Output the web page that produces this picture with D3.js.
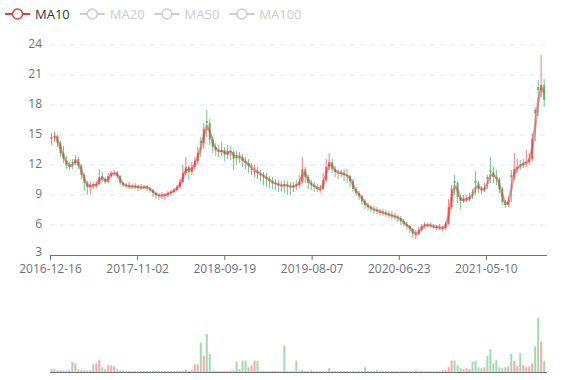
<!DOCTYPE html>
<html>
<head>
<meta charset="utf-8">
<script src="https://cdn.jsdelivr.net/npm/d3@7"></script>
<style>
  body { margin: 0; background: #fff; }
  text { font-family: "Open Sans", "Noto Sans", sans-serif; }
</style>
</head>
<body>
<script>
// price ticks and date labels
var priceTicks = [3, 6, 9, 12, 15, 18, 21, 24];
var dateLabels = ["2016-12-16", "2017-11-02", "2018-09-19", "2019-08-07", "2020-06-23", "2021-05-10"];
var legendNames = ["MA10", "MA20", "MA50", "MA100"];
var activeLegend = ["MA10"];

// one candle per ~11 calendar days: [open, close, low, high]
var candles = [
  [14.6,14.8,14.0,15.2],[14.8,14.9,14.3,15.3],[14.9,14.2,13.8,15.0],[14.2,13.2,12.8,14.4],[13.2,12.6,12.2,13.9],
  [12.5,12.0,11.6,12.9],[12.0,11.8,11.5,12.3],[12.3,12.2,11.6,12.6],[12.2,12.6,12.0,13.0],[12.6,11.9,11.6,12.8],
  [11.9,11.0,10.6,12.1],[11.0,10.2,9.4,11.2],[10.2,9.8,9.0,10.4],[9.8,10.0,9.1,10.4],[10.1,9.9,9.6,10.3],
  [9.9,10.1,9.7,10.4],[10.1,10.8,10.0,11.6],[10.9,10.6,10.3,11.3],[10.6,10.3,10.1,10.8],[10.3,10.9,10.2,11.2],
  [10.9,11.2,10.8,11.4],[11.2,11.2,10.9,11.5],[11.3,10.9,10.7,11.4],[10.9,10.2,10.0,11.0],[10.2,10.0,9.8,10.3],
  [10.0,9.9,9.7,10.2],[9.8,9.9,9.6,10.3],[9.9,9.8,9.6,10.1],[9.8,9.9,9.6,10.2],[9.9,9.7,9.4,10.0],
  [9.7,9.8,9.5,10.1],[9.8,9.8,9.6,10.0],[9.9,9.7,9.4,10.0],[9.7,9.5,9.2,9.8],[9.5,9.2,8.8,9.6],
  [9.2,9.0,8.6,9.3],[9.0,8.9,8.5,9.2],[8.9,9.0,8.6,9.3],[9.0,9.0,8.5,9.2],[9.0,9.2,8.8,9.4],
  [9.2,9.3,9.0,9.5],[9.3,9.5,9.2,9.7],[9.5,9.8,9.4,10.0],[9.8,10.3,9.6,10.6],[10.3,11.2,10.1,12.0],
  [11.2,11.8,11.0,12.8],[11.8,11.3,10.5,12.0],[11.3,11.8,11.0,12.3],[11.8,12.4,11.5,12.8],[12.4,13.2,12.0,13.8],
  [14.4,14.2,12.8,14.8],[14.2,15.6,13.6,16.2],[16.4,16.2,14.8,17.5],[16.2,14.6,14.0,16.6],[14.6,13.8,13.2,14.9],
  [13.8,13.5,12.9,14.2],[13.4,13.3,12.8,14.0],[13.3,13.5,12.9,14.3],[13.5,13.0,12.4,13.8],[13.0,13.4,12.6,14.0],
  [13.4,13.3,12.5,13.9],[13.3,12.6,11.5,13.5],[13.0,12.9,12.0,13.4],[12.9,12.8,12.2,13.3],[12.8,12.4,11.8,13.1],
  [12.4,12.2,11.6,12.8],[12.2,11.9,11.2,12.6],[11.5,11.6,11.0,12.2],[11.3,11.4,10.8,12.0],[11.4,11.2,10.6,11.8],
  [11.1,11.0,10.4,11.5],[11.0,10.8,10.0,11.3],[10.8,10.6,9.8,11.2],[10.6,10.4,9.7,10.9],[10.4,10.2,9.6,10.8],
  [10.2,10.1,9.5,10.6],[10.1,10.0,9.3,10.5],[10.0,9.9,9.4,10.4],[10.1,10.0,9.2,10.5],[10.0,9.9,9.0,10.4],
  [9.9,9.8,9.0,10.3],[9.8,9.9,9.3,10.3],[10.1,10.0,9.5,10.5],[10.0,10.3,9.7,11.0],[10.3,11.6,10.1,12.8],
  [11.6,10.8,10.2,11.8],[10.8,10.2,9.6,11.0],[10.2,10.0,9.5,10.5],[10.0,9.8,9.3,10.3],[9.8,9.6,9.3,10.1],
  [9.6,9.6,9.2,10.0],[9.6,10.5,9.5,11.2],[10.5,11.8,10.3,12.6],[11.8,12.3,11.5,13.2],[12.3,11.6,11.2,12.6],
  [11.6,11.3,10.8,11.9],[11.3,11.2,10.6,11.6],[11.1,11.2,10.8,11.5],[11.2,11.0,10.4,11.6],[11.0,10.9,10.2,11.6],
  [10.9,10.4,9.8,11.0],[10.4,9.6,9.3,10.6],[9.6,9.2,8.9,9.8],[9.2,8.9,8.5,9.4],[8.9,8.4,8.0,9.0],
  [8.4,8.0,7.6,8.6],[8.0,7.8,7.4,8.2],[7.8,7.6,7.3,8.0],[7.6,7.5,7.1,7.9],[7.5,7.4,7.1,7.8],
  [7.3,7.3,7.0,7.6],[7.3,7.2,6.9,7.6],[7.2,7.1,6.8,7.5],[7.1,7.0,6.7,7.4],[7.0,6.9,6.6,7.4],
  [6.9,6.8,6.5,7.2],[6.8,6.7,6.3,7.0],[6.7,6.4,6.0,6.9],[6.4,6.1,5.8,6.6],[6.1,5.9,5.5,6.3],
  [5.9,5.6,5.2,6.0],[5.6,5.1,4.7,5.7],[5.1,5.1,4.6,5.5],[5.1,5.5,5.0,5.8],[5.5,5.9,5.4,6.1],
  [5.9,6.0,5.7,6.3],[6.0,6.0,5.8,6.2],[6.0,5.9,5.7,6.3],[5.9,5.8,5.6,6.1],[5.8,5.8,5.5,6.0],
  [5.8,5.7,5.5,6.1],[5.7,5.7,5.4,5.9],[5.7,6.1,5.5,6.3],[6.1,7.8,6.0,8.6],[7.8,9.6,7.6,10.0],
  [10.4,10.2,9.0,11.0],[10.2,8.8,8.2,10.4],[8.8,8.4,7.6,9.0],[8.4,8.6,8.2,9.0],[8.6,8.6,8.3,9.0],
  [8.6,8.8,8.4,9.2],[9.3,9.2,8.6,9.6],[10.4,10.2,9.0,11.4],[10.2,9.6,9.2,10.4],[9.6,9.5,9.1,9.9],
  [9.5,9.7,9.3,10.2],[10.8,10.6,9.6,11.0],[11.5,11.3,10.2,12.8],[11.3,10.8,10.2,11.8],[10.8,10.6,10.0,11.5],
  [10.6,9.6,9.2,10.8],[9.6,8.3,8.0,9.8],[8.3,8.0,7.7,8.5],[8.0,8.4,7.8,8.8],[11.0,10.8,8.3,11.5],
  [10.8,11.6,10.5,13.2],[11.6,11.8,11.2,12.6],[12.1,12.0,11.5,12.5],[12.0,12.2,11.7,12.6],[12.2,12.3,11.8,13.5],
  [12.3,12.6,12.0,13.2],[12.6,14.6,12.4,15.2],[17.5,17.2,14.4,17.8],[19.8,19.5,16.9,20.5],[19.5,20.0,18.8,23.0],
  [20.0,18.5,17.8,20.6]
];

// volume per candle
var volumes = [
  3,3,2,2,1.5,1.5,2,11,9,3, 2,2,1.5,2,8,9,13,5,3,7,
  7,6,3,2,1.5,1,1,1,1,1, 1,1,1,1,1.5,1,1,1,1,1,
  1,1,1,1,1.5,2,1,2,8,8, 31,17,40,19,1.5,1,1,1,1,1,
  1.5,2,11,3,12,12,5,7,12,12, 1.5,1,1,1,1,1,1,1,28,1,
  1,1,12,1,2,1,1,2,1,1, 1,1,1,4,1,1,1,1,1,1,
  1,1,1,1,1,5,1,1,1,2, 1,1,1,1,1,1,1,1,1,1,
  1,1,2,1,1,1,1,1,1,1, 1,2,2,5,12,12,7,4,3,4,
  3,11,12,5,4,5,17,24,9,13, 5,4,5,6,19,12,6,20,7,5,
  6,9,27,57,32,12
];

var startDate = new Date(2016, 11, 16);
var endDate = new Date(2021, 11, 21);
var candleStepDays = 11;
var maWindow = 2;

var upColor = "#eb5454", downColor = "#47b262", maColor = "#d94545";

var width = 577, height = 380;
var svg = d3.select("body").append("svg")
    .attr("width", width)
    .attr("height", height);

var parse = d3.timeParse("%Y-%m-%d");
var day = 24 * 3600 * 1000;
var candleDate = i => new Date(startDate.getTime() + (i * candleStepDays + candleStepDays / 2) * day);

var x = d3.scaleTime().domain([startDate, endDate]).range([50, 547]);
var y = d3.scaleLinear().domain([3, 24]).range([255, 45]);
var yVol = d3.scaleLinear().domain([0, 60]).range([372, 315]);

// grid lines
svg.append("g")
    .selectAll("line")
    .data(priceTicks.slice(1))
    .enter().append("line")
    .attr("x1", 50).attr("x2", 547)
    .attr("y1", d => y(d)).attr("y2", d => y(d))
    .attr("stroke", "#e0e6f1")
    .attr("stroke-dasharray", "5,5");

// y labels
svg.append("g")
    .selectAll("text")
    .data(priceTicks)
    .enter().append("text")
    .attr("x", 42)
    .attr("y", d => y(d) - (d === 3 ? 3 : 1))
    .attr("dy", "0.35em")
    .attr("text-anchor", "end")
    .attr("font-size", 12)
    .attr("fill", "#6e7079")
    .text(d => d);

// x axis
var xAxis = d3.axisBottom(x)
    .tickValues(dateLabels.map(parse))
    .tickFormat(d3.timeFormat("%Y-%m-%d"))
    .tickSize(5)
    .tickSizeOuter(0);

var gx = svg.append("g")
    .attr("transform", "translate(0,255)")
    .call(xAxis);
gx.select(".domain").attr("stroke", "#6e7079").attr("d", "M50,0.5H547");
gx.selectAll(".tick line").attr("stroke", "#6e7079");
gx.selectAll(".tick text")
    .attr("fill", "#6e7079")
    .attr("font-size", 12)
    .attr("font-family", "Open Sans, Noto Sans, sans-serif")
    .attr("y", 9);

// candles
var cg = svg.append("g");
candles.forEach(function (c, i) {
    var cx = x(candleDate(i));
    var col = c[1] >= c[0] ? upColor : downColor;
    cg.append("line")
        .attr("x1", cx).attr("x2", cx)
        .attr("y1", y(c[3])).attr("y2", y(c[2]))
        .attr("stroke", col)
        .attr("stroke-width", 1)
        .attr("opacity", 0.75);
    var top = y(Math.max(c[0], c[1])), bot = y(Math.min(c[0], c[1]));
    cg.append("rect")
        .attr("x", cx - 1)
        .attr("y", top)
        .attr("width", 2)
        .attr("height", Math.max(1, bot - top))
        .attr("fill", col)
        .attr("opacity", 0.85);
});

// MA line
var ma = [];
candles.forEach(function (c, i) {
    if (i < maWindow - 1) return;
    var s = 0;
    for (var k = 0; k < maWindow; k++) s += candles[i - k][1];
    ma.push([candleDate(i), s / maWindow]);
});

svg.append("path")
    .datum(ma)
    .attr("fill", "none")
    .attr("stroke", maColor)
    .attr("stroke-width", 2.5)
    .attr("stroke-linejoin", "round")
    .attr("opacity", 0.55)
    .attr("d", d3.line().x(d => x(d[0])).y(d => y(d[1])));

// volume bars
svg.append("g")
    .selectAll("rect")
    .data(volumes)
    .enter().append("rect")
    .attr("x", (d, i) => x(candleDate(i)) - 1)
    .attr("y", d => yVol(d))
    .attr("width", 2)
    .attr("height", d => 372 - yVol(d))
    .attr("fill", (d, i) => candles[i][1] >= candles[i][0] ? upColor : downColor)
    .attr("opacity", 0.5);

svg.append("line")
    .attr("x1", 50).attr("x2", 547)
    .attr("y1", 372.5).attr("y2", 372.5)
    .attr("stroke", "#6e7079");

// legend
var lx = 5;
legendNames.forEach(function (name) {
    var on = activeLegend.indexOf(name) >= 0;
    var col = on ? maColor : "#ccc";
    var g = svg.append("g").attr("transform", "translate(" + lx + ",14)");
    g.append("line").attr("x1", 0).attr("x2", 25).attr("stroke", col).attr("stroke-width", 2);
    g.append("circle").attr("cx", 12.5).attr("r", 5).attr("fill", "#fff").attr("stroke", col).attr("stroke-width", 1.5);
    var t = g.append("text")
        .attr("x", 30)
        .attr("dy", "0.35em")
        .attr("font-size", 13)
        .attr("fill", on ? "#333" : "#ccc")
        .text(name);
    lx += 30 + t.node().getComputedTextLength() + 10;
});
</script>
</body>
</html>
